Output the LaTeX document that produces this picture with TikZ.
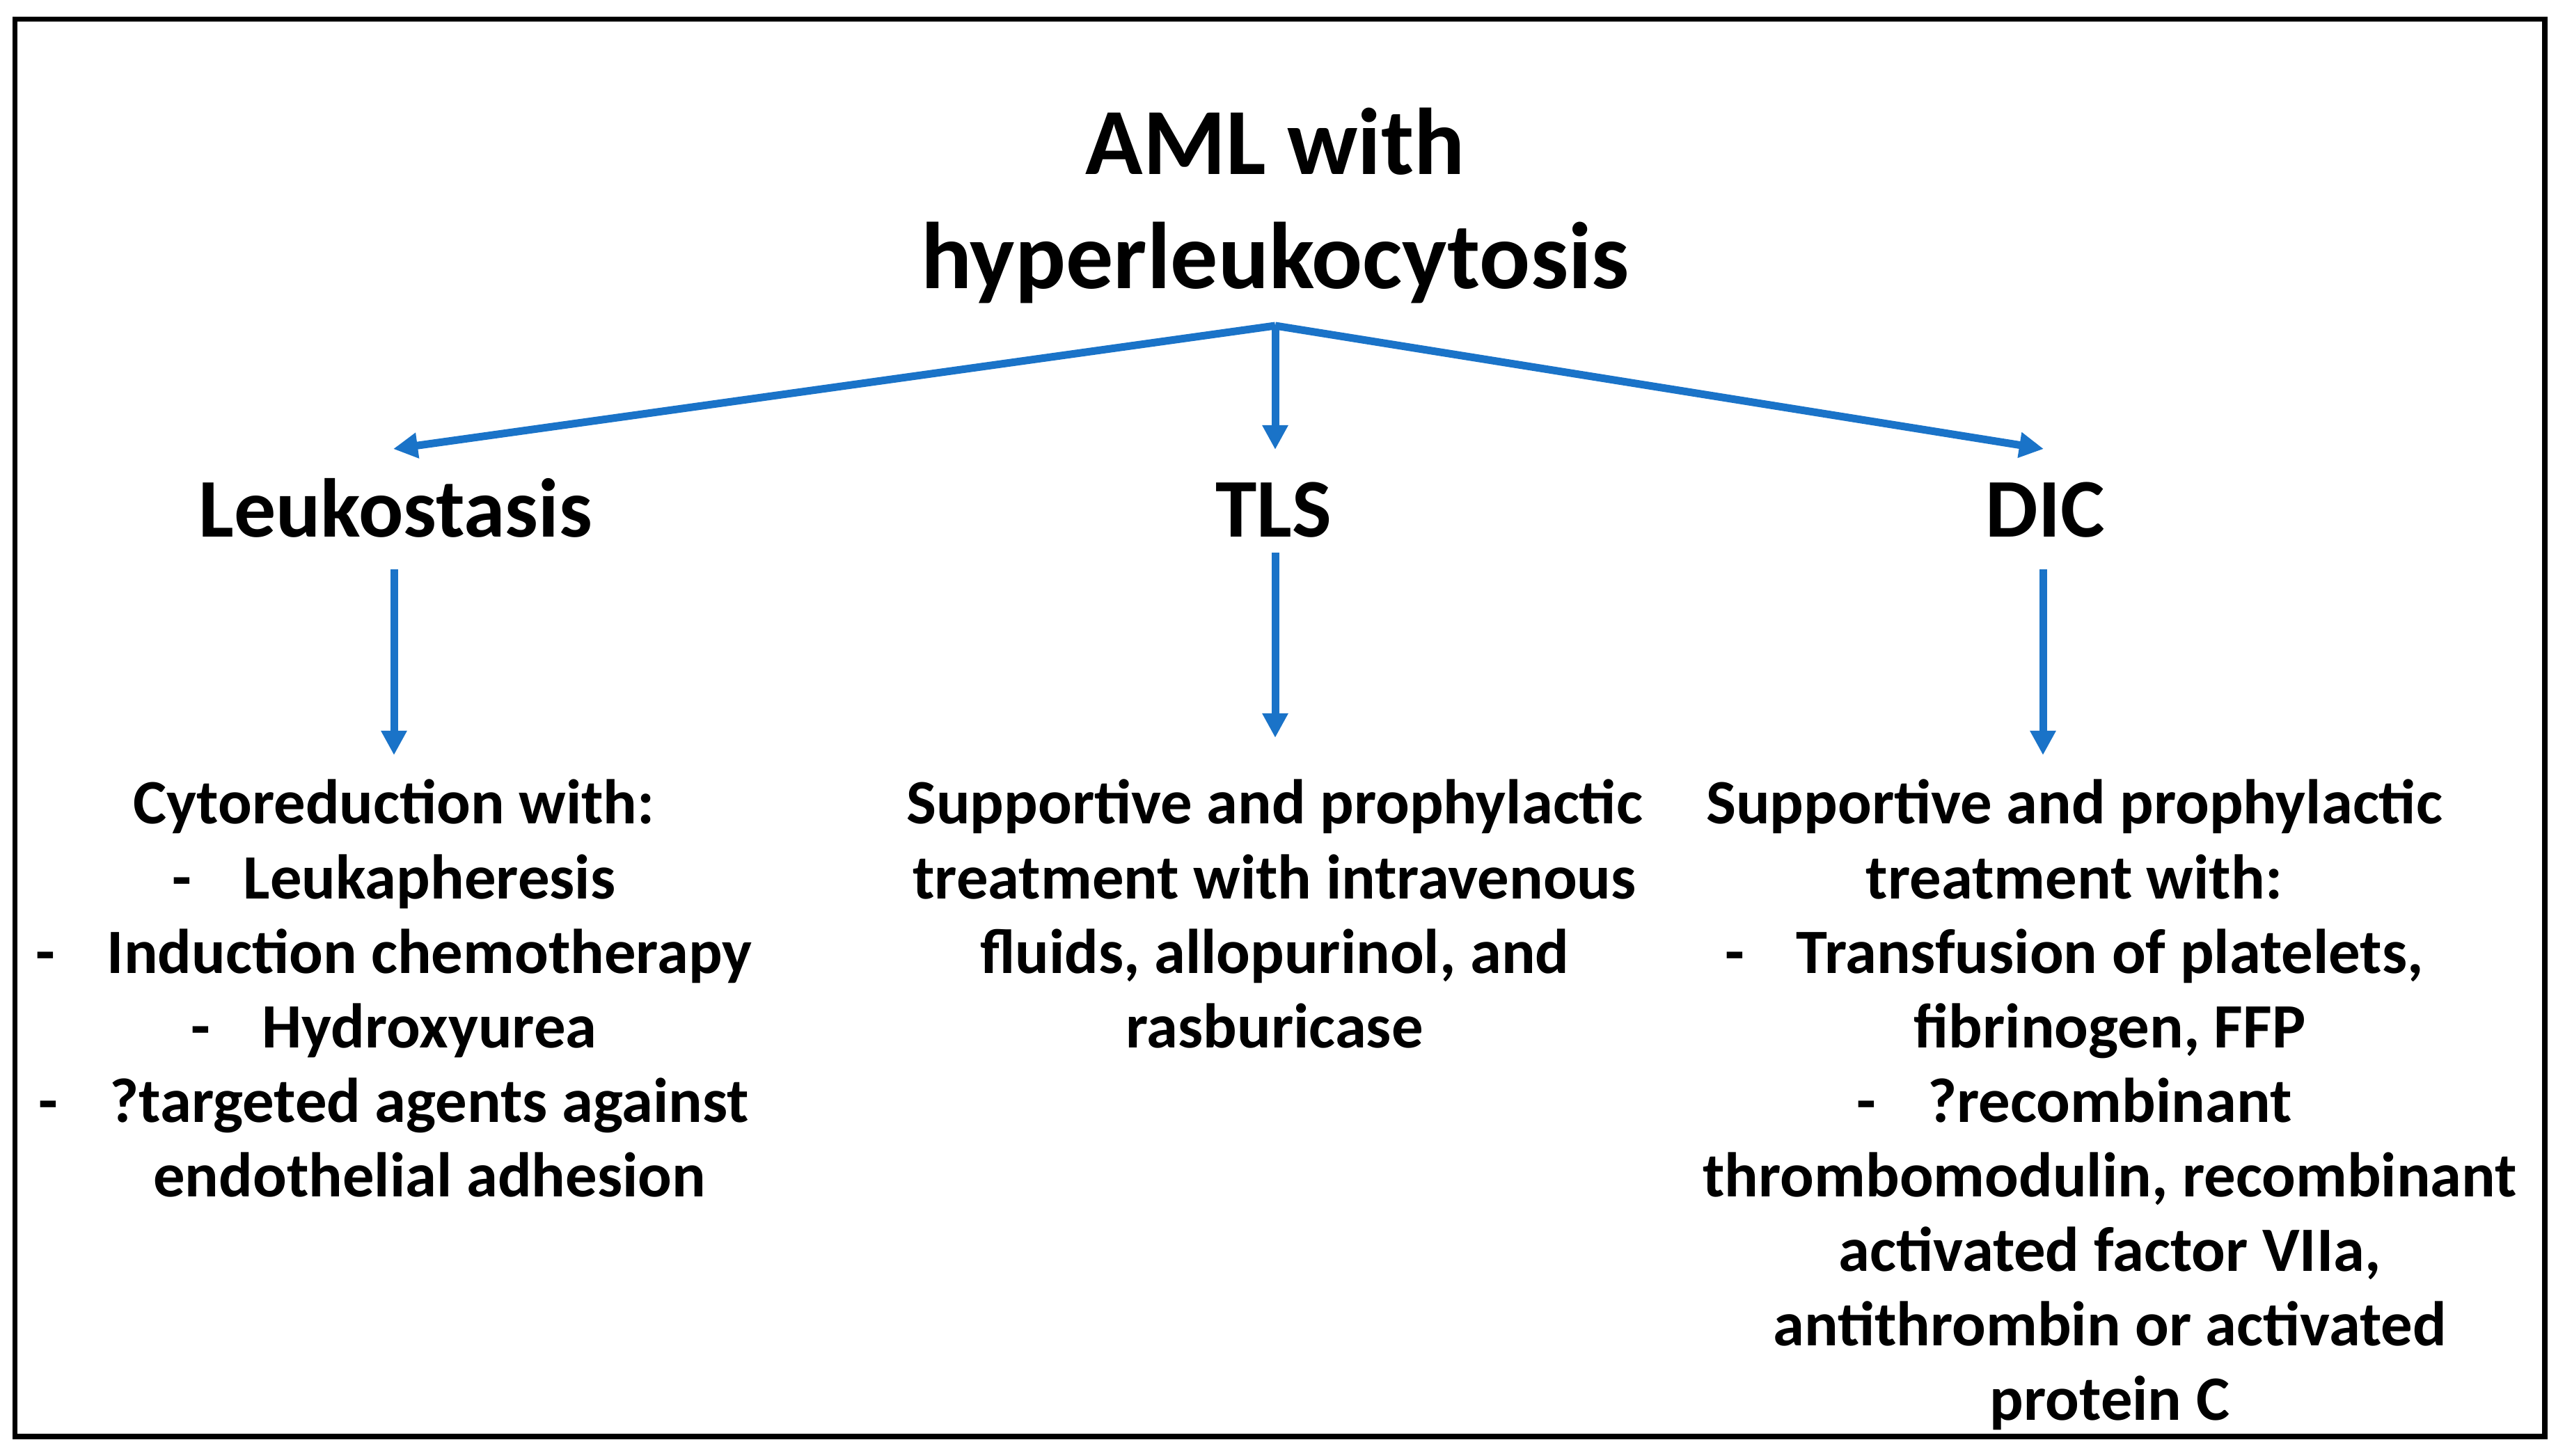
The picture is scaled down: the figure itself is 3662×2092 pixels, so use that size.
\documentclass[tikz,border=0pt]{standalone}
\usepackage{fontspec}
\setmainfont{Carlito}
\usetikzlibrary{arrows.meta}
\definecolor{arrowblue}{RGB}{26,115,200}
\newcommand{\bul}[1]{\makebox[1.02cm][l]{-}#1}
\newcommand{\cont}[1]{\hspace*{1.02cm}#1}
\begin{document}
\begin{tikzpicture}[x=0.01cm,y=-0.01cm,
  frame/.style={draw=black, line width=0.075cm},
  flow/.style={draw=arrowblue, line width=0.11cm, -{Triangle[length=0.35cm,width=0.35cm]}},
  ttl/.style={font=\fontsize{38.7}{46.4}\selectfont\bfseries, inner sep=0pt, anchor=base},
  lbl/.style={font=\fontsize{34.1}{40}\selectfont\bfseries, inner sep=0pt, anchor=base},
  bodytext/.style={font=\fontsize{25.8}{30.44}\selectfont\bfseries, inner sep=0pt, anchor=base}]
\useasboundingbox (0,0) rectangle (3662,2092);
\draw[frame] (21.5,27.5) rectangle (3656,2064);

\node[ttl] (title) at (1832,251) {\begin{tabular}[t]{@{}c@{}}AML with\\hyperleukocytosis\end{tabular}};

\node[lbl] (lk) at (568,772) {Leukostasis};
\node[lbl] (tls) at (1830,772) {TLS};
\node[lbl] (dic) at (2938,772) {DIC};

\node[bodytext] (lkbody) at (566,1184) {\begin{tabular}[t]{@{}c@{}}
Cytoreduction with:\\
\bul{Leukapheresis}\\
\bul{Induction chemotherapy}\\
\bul{Hydroxyurea}\\
\bul{?targeted agents against}\\
\cont{endothelial adhesion}
\end{tabular}};

\node[bodytext] (tlsbody) at (1831,1184) {\begin{tabular}[t]{@{}c@{}}
Supportive and prophylactic\\
treatment with intravenous\\
fluids, allopurinol, and\\
rasburicase
\end{tabular}};

\node[bodytext] (dicbody) at (2980,1184) {\begin{tabular}[t]{@{}c@{}}
Supportive and prophylactic\\
treatment with:\\
\bul{Transfusion of platelets,}\\
\cont{fibrinogen, FFP}\\
\bul{?recombinant}\\
\cont{thrombomodulin, recombinant}\\
\cont{activated factor VIIa,}\\
\cont{antithrombin or activated}\\
\cont{protein C}
\end{tabular}};

\coordinate (apex) at (1832,468);
\coordinate (lkin) at (565,645);
\coordinate (tlsin) at (1832,646);
\coordinate (dicin) at (2936,645);
\coordinate (lkout) at (566,818);
\coordinate (lkend) at (566,1085);
\coordinate (tlsout) at (1832,794);
\coordinate (tlsend) at (1832,1060);
\coordinate (dicout) at (2935,818);
\coordinate (dicend) at (2935,1085);

\draw[flow] (apex) -- (tlsin);
\draw[flow] (apex) -- (lkin);
\draw[flow] (apex) -- (dicin);
\draw[flow] (lkout) -- (lkend);
\draw[flow] (tlsout) -- (tlsend);
\draw[flow] (dicout) -- (dicend);
\end{tikzpicture}
\end{document}
